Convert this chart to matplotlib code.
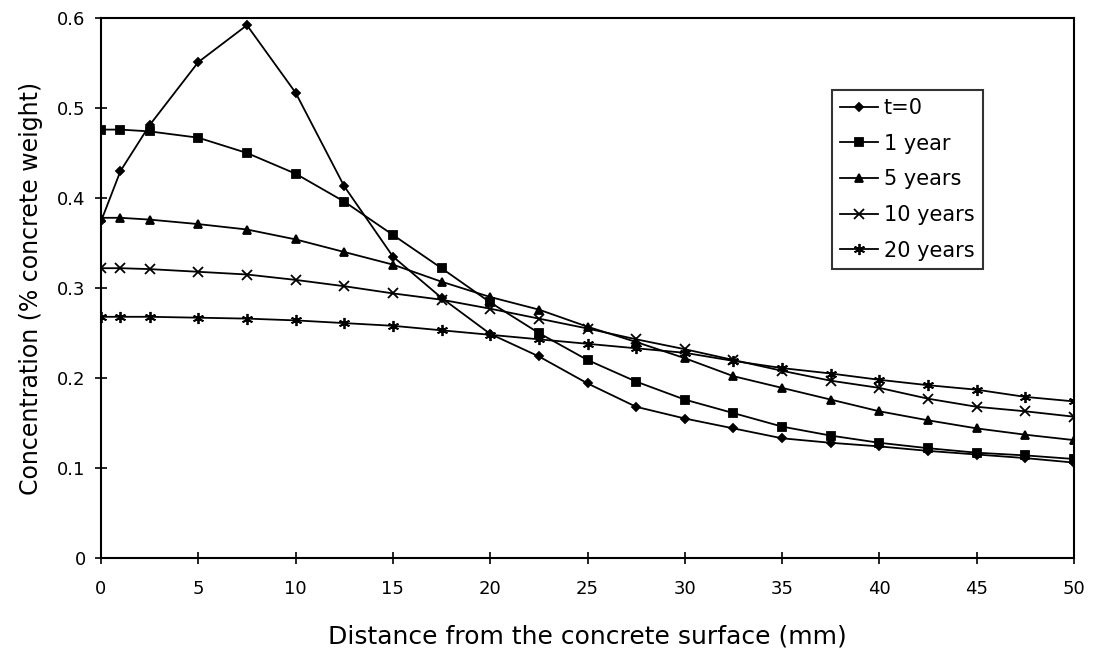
import matplotlib.pyplot as plt

# Chloride profiles at different exposure times
depth = [0, 1, 2.5, 5, 7.5, 10, 12.5, 15, 17.5, 20, 22.5, 25, 27.5,
         30, 32.5, 35, 37.5, 40, 42.5, 45, 47.5, 50]

conc_t0 = [0.374, 0.430, 0.481, 0.551, 0.592, 0.517, 0.413, 0.335, 0.289,
           0.249, 0.224, 0.194, 0.168, 0.155, 0.144, 0.133, 0.128, 0.124,
           0.119, 0.115, 0.111, 0.106]
conc_1y = [0.476, 0.476, 0.474, 0.467, 0.450, 0.427, 0.396, 0.359, 0.322,
           0.284, 0.250, 0.220, 0.196, 0.176, 0.161, 0.146, 0.136, 0.128,
           0.122, 0.117, 0.114, 0.110]
conc_5y = [0.378, 0.378, 0.376, 0.371, 0.365, 0.354, 0.340, 0.326, 0.307,
           0.290, 0.276, 0.257, 0.240, 0.222, 0.202, 0.189, 0.176, 0.163,
           0.153, 0.144, 0.137, 0.131]
conc_10y = [0.322, 0.322, 0.321, 0.318, 0.315, 0.309, 0.302, 0.294, 0.287,
            0.277, 0.266, 0.255, 0.243, 0.232, 0.220, 0.208, 0.197, 0.189,
            0.177, 0.168, 0.163, 0.157]
conc_20y = [0.268, 0.268, 0.268, 0.267, 0.266, 0.264, 0.261, 0.258, 0.253,
            0.248, 0.243, 0.238, 0.233, 0.228, 0.219, 0.211, 0.205, 0.198,
            0.192, 0.187, 0.179, 0.174]

labels = ['t=0', '1 year', '5 years', '10 years', '20 years']
markers = ['D', 's', '^', 'x', (6, 2, 0)]
sizes = [4, 6, 6, 7, 8]

plt.rcParams.update({
    'font.family': ['DejaVu Sans'],
    'font.size': 12,
})

fig = plt.figure(figsize=(10.93, 6.49), dpi=100)
ax = fig.add_axes([101 / 1093, 1 - 558 / 649, 973 / 1093, 540 / 649])

series = [conc_t0, conc_1y, conc_5y, conc_10y, conc_20y]
for vals, lab, mk, ms in zip(series, labels, markers, sizes):
    ax.plot(depth, vals, color='black', linewidth=1.3, marker=mk,
            markersize=ms, markeredgewidth=1.3, label=lab)

ax.set_xlim(0, 50)
ax.set_ylim(0, 0.6)
ax.set_xticks(range(0, 51, 5))
ax.set_yticks([0, 0.1, 0.2, 0.3, 0.4, 0.5, 0.6])
ax.set_yticklabels(['0', '0.1', '0.2', '0.3', '0.4', '0.5', '0.6'])
ax.tick_params(direction='inout', length=8, width=1.2, labelsize=13)
ax.tick_params(axis='x', pad=12)
ax.tick_params(axis='y', pad=7)

for side in ax.spines.values():
    side.set_linewidth(1.5)

ax.set_xlabel('Distance from the concrete surface (mm)', fontsize=18,
              labelpad=19)
ax.set_ylabel('Concentration (% concrete weight)', fontsize=17,
              labelpad=10)

leg = ax.legend(loc='upper left', bbox_to_anchor=(0.751, 0.867),
                frameon=True, fancybox=False, edgecolor='black',
                fontsize=15, handlelength=1.8, handletextpad=0.3,
                labelspacing=0.75, borderpad=0.4, borderaxespad=0)
leg.get_frame().set_linewidth(1.5)

fig.savefig('out.png', dpi=100)
